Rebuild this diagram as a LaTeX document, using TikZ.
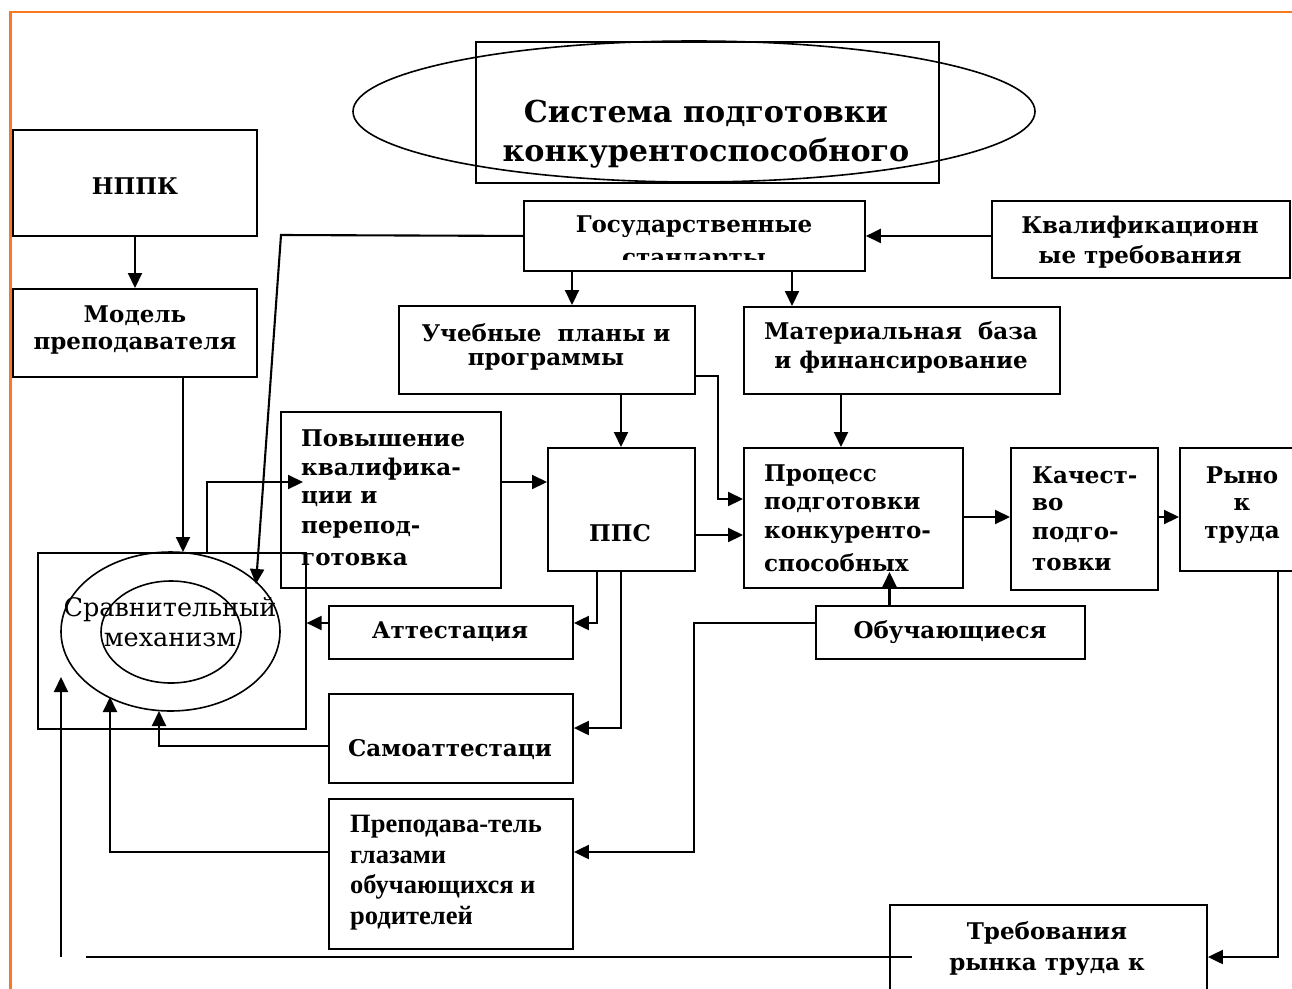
\documentclass[tikz,border=0pt]{standalone}
\usepackage{fontspec}
\setmainfont{DejaVu Serif}
\newfontfamily\timesf{Liberation Serif}
\usetikzlibrary{arrows.meta}
\definecolor{frameorange}{RGB}{247,122,35}
\begin{document}
\begin{tikzpicture}[x=1pt,y=-1pt,
  box/.style={draw, line width=1.9pt, inner sep=0pt, anchor=north west},
  txt/.style={inner sep=0pt, font=\fontsize{23}{27}\bfseries\selectfont},
  ltxt/.style={txt, anchor=west},
  ttxt/.style={inner sep=0pt, anchor=west, font=\fontsize{26.5}{29}\timesf\bfseries\selectfont},
  conn/.style={line width=2.1pt},
  arr/.style={conn, -{Triangle[length=15pt,width=14pt]}},
  thinline/.style={line width=1.6pt}
]
\useasboundingbox (0,0) rectangle (1292,988);
% orange frame
\draw[frameorange, line width=2.4pt] (10.5,990) -- (10.5,11.7) -- (1295,11.7);

% title
\node[box, line width=1.6pt, minimum width=463pt, minimum height=141pt] (titlebox) at (475,41) {};
\draw[thinline] (694,111.5) ellipse [x radius=341, y radius=70.5];
\node[inner sep=0pt, font=\fontsize{30.2}{40}\bfseries\selectfont] (t-title1) at (706,113) {Система подготовки};
\node[inner sep=0pt, font=\fontsize{30.2}{40}\bfseries\selectfont] (t-title2) at (706,153) {конкурентоспособного};

% boxes
\node[box, minimum width=244pt, minimum height=106pt] (nppk) at (12,129) {};
\node[txt] (t-nppk) at (135,186) {НППК};
\node[box, minimum width=244pt, minimum height=88pt] (model) at (12,288) {};
\node[txt] (t-model1) at (135,316) {Модель};
\node[txt] (t-model2) at (135,346) {преподавателя};

\node[box, minimum width=341pt, minimum height=70pt] (gos) at (523,200) {};
\node[txt] (t-gos1) at (694,227) {Государственные};
\begin{scope}
\clip (523,200) rectangle (864,259);
\node[txt] (t-gos2) at (694,262) {стандарты};
\end{scope}

\node[box, minimum width=298pt, minimum height=77pt] (kval) at (991,200) {};
\node[txt] (t-kval1) at (1140,227) {Квалификационн};
\node[txt] (t-kval2) at (1140,257) {ые требования};

\node[box, minimum width=296pt, minimum height=88pt] (ucheb) at (398,305) {};
\node[txt] (t-ucheb1) at (546,333) {Учебные\ \ планы и};
\node[txt] (t-ucheb2) at (546,362) {программы};

\node[box, minimum width=316pt, minimum height=87pt] (mat) at (743,306) {};
\node[txt] (t-mat1) at (901,333) {Материальная\ \ база};
\node[txt] (t-mat2) at (901,362) {и финансирование};

\node[box, minimum width=220pt, minimum height=176pt] (pov) at (280,411) {};
\node[ltxt] (t-pov1) at (301,438) {Повышение};
\node[ltxt] (t-pov2) at (301,469) {квалифика-};
\node[ltxt] (t-pov3) at (301,499) {ции и};
\node[ltxt] (t-pov4) at (301,530) {перепод-};
\node[ltxt] (t-pov5) at (301,560) {готовка};

\node[box, minimum width=147pt, minimum height=123pt] (pps) at (547,447) {};
\node[txt] (t-pps) at (620,533) {ППС};

\node[box, minimum width=219pt, minimum height=140pt] (proc) at (743,447) {};
\node[ltxt] (t-proc1) at (764,475) {Процесс};
\node[ltxt] (t-proc2) at (764,505) {подготовки};
\node[ltxt] (t-proc3) at (764,535) {конкуренто-};
\node[ltxt] (t-proc4) at (764,563) {способных};

\node[box, minimum width=147pt, minimum height=142pt] (kach) at (1010,447) {};
\node[ltxt] (t-kach1) at (1032,475) {Качест-};
\node[ltxt] (t-kach2) at (1032,505) {во};
\node[ltxt] (t-kach3) at (1032,535) {подго-};
\node[ltxt] (t-kach4) at (1032,565) {товки};

\node[box, minimum width=130pt, minimum height=123pt] (rynok) at (1179,447) {};
\node[txt] (t-rynok1) at (1242,475) {Рыно};
\node[txt] (t-rynok2) at (1242,505) {к};
\node[txt] (t-rynok3) at (1242,535) {труда};

% comparison mechanism
\node[box, line width=1.6pt, minimum width=268pt, minimum height=176pt] (cmp) at (37,552) {};
\draw[thinline] (170.5,631.5) ellipse [x radius=109.5, y radius=79.5];
\draw[thinline] (171,632) ellipse [x radius=70, y radius=51];
\node[inner sep=0pt, font=\fontsize{25.5}{28}\selectfont] (t-cmp1) at (170,610) {Сравнительный};
\node[inner sep=0pt, font=\fontsize{25.5}{28}\selectfont] (t-cmp2) at (170,640) {механизм};

\node[box, minimum width=244pt, minimum height=53pt] (att) at (328,605) {};
\node[txt] (t-att) at (450,632) {Аттестация};
\node[box, minimum width=269pt, minimum height=53pt] (obuch) at (815,605) {};
\node[txt] (t-obuch) at (950,632) {Обучающиеся};
\node[box, minimum width=244pt, minimum height=89pt] (samo) at (328,693) {};
\node[txt] (t-samo) at (450,750) {Самоаттестаци};
\node[box, minimum width=244pt, minimum height=150pt] (prep) at (328,798) {};
\node[ttxt] (t-prep1) at (350,827) {Преподава-тель};
\node[ttxt] (t-prep2) at (350,857) {глазами};
\node[ttxt] (t-prep3) at (350,887) {обучающихся и};
\node[ttxt] (t-prep4) at (350,918) {родителей};

\node[box, minimum width=317pt, minimum height=100pt] (treb) at (889,904) {};
\node[txt] (t-treb1) at (1047,933) {Требования};
\node[txt] (t-treb2) at (1047,967) {рынка труда к};

% connectors
\coordinate (g1) at (281,235);
\coordinate (g2) at (256,584);
\draw[arr] (nppk.south -| 135,0) -- (model.north -| 135,0);
\draw[arr] (model.south -| 183,0) -- (cmp.north -| 183,0);
\draw[arr] (gos.west) -- (g1) -- (g2);
\draw[arr] (kval.west |- gos.east) -- (gos.east);
\draw[arr] (gos.south -| 572,0) -- (ucheb.north -| 572,0);
\draw[arr] (gos.south -| 792,0) -- (mat.north -| 792,0);
\draw[arr] (ucheb.south -| 621,0) -- (pps.north -| 621,0);
\draw[arr] (ucheb.east |- 0,376) -- (718,376) -- (718,499) -- (proc.west |- 0,499);
\draw[arr] (mat.south -| 841,0) -- (proc.north -| 841,0);
\draw[arr] (cmp.north -| 207,0) -- (207,482) -- (303,482);
\draw[arr] (pov.east |- 0,482) -- (pps.west |- 0,482);
\draw[arr] (pps.east |- 0,535) -- (proc.west |- 0,535);
\draw[arr] (proc.east |- 0,517) -- (kach.west |- 0,517);
\draw[arr] (kach.east |- 0,517) -- (rynok.west |- 0,517);
\draw[arr] (pps.south -| 597,0) -- (597,623) -- (att.east |- 0,623);
\draw[arr] (att.west |- 0,623) -- (cmp.east |- 0,623);
\draw[arr] (pps.south -| 621,0) -- (621,728) -- (samo.east |- 0,728);
\draw[arr] (samo.west |- 0,746) -- (159,746) -- (159,711);
\draw[arr] (prep.west |- 0,852) -- (110,852) -- (110,697);
\draw[arr] (obuch.west |- 0,623) -- (694,623) -- (694,852) -- (prep.east |- 0,852);
\draw[arr] (obuch.north -| 889.5,0) -- (889.5,572);
\draw[arr] (rynok.south -| 1278,0) -- (1278,957) -- (treb.east |- 0,957);
\coordinate (bl1) at (86,957);
\coordinate (bl2) at (61,957);
\draw[thinline] (treb.west |- 912,957) ++(23,0) -- (bl1);
\draw[arr] (bl2) -- (61,677);
\end{tikzpicture}
\end{document}
